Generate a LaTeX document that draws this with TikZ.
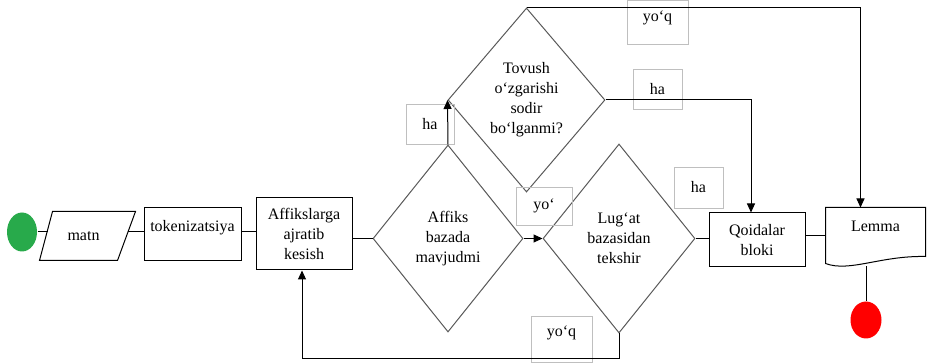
\documentclass[tikz,border=0pt]{standalone}
\usepackage{fontspec}
\setmainfont{Liberation Serif}
\usetikzlibrary{arrows.meta,shapes.geometric}
\definecolor{startgreen}{RGB}{40,170,75}

\begin{document}
\begin{tikzpicture}[x=1pt,y=-1pt,line width=1pt,
	every node/.style={font=\fontsize{16}{20}\selectfont,align=center},
	box/.style 2 args={draw,rectangle,minimum width=#1,minimum height=#2,inner sep=0pt},
	ask/.style 2 args={draw=black!65,diamond,minimum width=#1,minimum height=#2,inner sep=0pt},
	tag/.style 2 args={draw=black!25,line width=0.8pt,minimum width=#1,minimum height=#2,inner sep=0pt},
	arr/.style={-{Triangle[length=9pt,width=8pt]}}]
		%%%%% START %%%%%
		\useasboundingbox (0,0) rectangle (927,363);
		
		\node[ellipse,fill=startgreen,minimum width=30,minimum height=39,inner sep=0pt] (start) at (22,232) {};
		\node[minimum width=95,minimum height=48,inner sep=0pt,xshift=-4pt] (matn) at (87.5,236) {matn};
		\draw ([xshift=4pt]matn.south west) -- ([xshift=17pt]matn.north west) -- ([xshift=4pt]matn.north east) -- ([xshift=-14pt]matn.south east) -- cycle;
		\coordinate (matnin) at (47.6,232);
		\coordinate (matnout) at (127.5,232);
		\node[box={97}{53},text depth=18] (token) at (192.5,234.5) {tokenizatsiya};
		\node[box={96}{72}] (affix) at (304,234) {Affikslarga\\ajratib\\kesish};
		
		\node[ask={150}{187}] (affiks) at (448,238.5) {Affiks\\bazada\\mavjudmi};
		\node[ask={152}{189}] (lugat) at (619,238.5) {Lug‘at\\bazasidan\\tekshir};
		\node[ask={157}{184}] (tovush) at (526.5,100) {Tovush\\o‘zgarishi\\sodir\\bo‘lganmi?};
		
		\node[box={96}{54}] (qoid) at (757,240) {Qoidalar\\bloki};
		\node[minimum width=99,minimum height=55,inner sep=0pt,text depth=19] (lemma) at (875.5,235.5) {Lemma};
		\draw (lemma.north west) -- (lemma.north east) -- ([yshift=7pt]lemma.south east)
			.. controls ([xshift=-45pt,yshift=8pt]lemma.south east) and ([xshift=24pt,yshift=-9pt]lemma.south west) .. (lemma.south west) -- cycle;
		\node[ellipse,fill=red,minimum width=31,minimum height=37,inner sep=0pt] (stop) at (866,320) {};
		
		% yo'l belgilari
		\node[tag={48}{40}] (ha1) at (430,124) {ha};
		\node[tag={56}{38}] (yo1) at (544,206) {yo‘};
		\node[tag={61}{46},text depth=16] (yoq1) at (561.5,339) {yo‘q};
		\node[tag={61}{44},text depth=12] (yoq2) at (657.5,22) {yo‘q};
		\node[tag={49}{40}] (ha2) at (657.5,89) {ha};
		\node[tag={49}{41}] (ha3) at (698.5,187.5) {ha};
		
		\draw (start) -- (matnin);
		\draw (matnout) -- (matnout -| token.west);
		\draw (token.east |- matnout) -- (affix.west |- matnout);
		\draw (affix.east |- affiks.west) -- (affiks.west);
		\draw[arr] (affiks.east) -- (lugat.west);
		\draw[arr] (affiks.north) -- (tovush.west);
		\draw (lugat.east) -- (lugat.east -| qoid.west);
		\draw (qoid.east |- lemma.west) -- (lemma.west);
		\draw[arr] (tovush.east) -| ([xshift=-6pt]qoid.north);
		\draw[arr] (tovush.north) -| ([xshift=-15pt]lemma.north);
		\draw[arr] (lugat.south) -- ++(0,25) -| ([xshift=-2pt]affix.south);
		\draw (stop.north) -- ([yshift=-3pt]stop.north |- lemma.south);
		%%%%% END %%%%%
\end{tikzpicture}
\end{document}
